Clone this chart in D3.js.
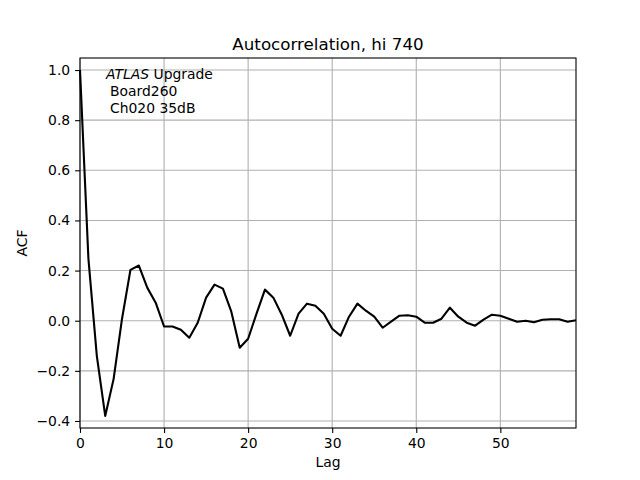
<!DOCTYPE html>
<html>
<head>
<meta charset="utf-8">
<title>Autocorrelation</title>
<script src="https://d3js.org/d3.v7.min.js"></script>
<style>
  body { margin: 0; background: #fff; }
  text { font-family: "DejaVu Sans", sans-serif; fill: #000; }
</style>
</head>
<body>
<svg width="640" height="480"></svg>
<script>
// autocorrelation values, lag 0..59
var lags = d3.range(0, 60);
var acf = [1.0, 0.248, -0.14, -0.38, -0.232, 0.008, 0.203, 0.22, 0.132, 0.072,
           -0.023, -0.023, -0.036, -0.068, -0.008, 0.092, 0.144, 0.128, 0.036, -0.108,
           -0.072, 0.028, 0.124, 0.092, 0.024, -0.06, 0.028, 0.068, 0.06, 0.028,
           -0.032, -0.06, 0.016, 0.068, 0.04, 0.016, -0.028, -0.004, 0.02, 0.022,
           0.016, -0.008, -0.008, 0.008, 0.052, 0.016, -0.008, -0.02, 0.004, 0.024,
           0.02, 0.008, -0.004, 0.0, -0.006, 0.004, 0.006, 0.006, -0.004, 0.002];
var xTicks = [0, 10, 20, 30, 40, 50];
var yTicks = [-0.4, -0.2, 0.0, 0.2, 0.4, 0.6, 0.8, 1.0];
var title = "Autocorrelation, hi 740";
var labelLines = ["Board260", "Ch020 35dB"];

var svg = d3.select("svg"),
    margin = { top: 58, right: 64, bottom: 52, left: 80 },
    width = +svg.attr("width") - margin.left - margin.right,
    height = +svg.attr("height") - margin.top - margin.bottom,
    g = svg.append("g").attr("transform", "translate(" + margin.left + "," + margin.top + ")");

var x = d3.scaleLinear().domain([0, 59]).range([0, width]);
var y = d3.scaleLinear().domain([-0.428, 1.048]).range([height, 0]);

// grid
g.append("g").selectAll("line").data(xTicks).enter().append("line")
    .attr("x1", d => x(d)).attr("x2", d => x(d))
    .attr("y1", 0).attr("y2", height)
    .attr("stroke", "#b0b0b0").attr("stroke-width", 1.1);
g.append("g").selectAll("line").data(yTicks).enter().append("line")
    .attr("x1", 0).attr("x2", width)
    .attr("y1", d => y(d)).attr("y2", d => y(d))
    .attr("stroke", "#b0b0b0").attr("stroke-width", 1.1);

// the acf line
var line = d3.line()
    .x(function (d, i) { return x(lags[i]); })
    .y(function (d) { return y(d); });

g.append("path")
    .datum(acf)
    .attr("fill", "none")
    .attr("stroke", "#000")
    .attr("stroke-width", 2.1)
    .attr("stroke-linejoin", "round")
    .attr("d", line);

// axes
var xAxis = g.append("g")
    .attr("transform", "translate(0," + height + ")")
    .call(d3.axisBottom(x).tickValues(xTicks).tickSize(4.9).tickPadding(4.9).tickFormat(d3.format("d")));
var yAxis = g.append("g")
    .call(d3.axisLeft(y).tickValues(yTicks).tickSize(4.9).tickPadding(4.9)
        .tickFormat(function (d) { return d3.format(".1f")(d).replace("-", "\u2212"); }));

[xAxis, yAxis].forEach(function (a) {
    a.select(".domain").remove();
    a.selectAll("line").attr("stroke", "#000").attr("stroke-width", 1.1);
    a.selectAll("text").attr("font-size", "13.9px").attr("font-family", "DejaVu Sans");
});

// frame
g.append("rect")
    .attr("width", width).attr("height", height)
    .attr("fill", "none").attr("stroke", "#000").attr("stroke-width", 1.1);

// title and axis labels
svg.append("text")
    .attr("x", margin.left + width / 2).attr("y", 50)
    .attr("text-anchor", "middle").attr("font-size", "16.7px")
    .text(title);

svg.append("text")
    .attr("x", margin.left + width / 2).attr("y", 467)
    .attr("text-anchor", "middle").attr("font-size", "13.9px")
    .text("Lag");

svg.append("text")
    .attr("transform", "translate(27," + (margin.top + height / 2) + ") rotate(-90)")
    .attr("text-anchor", "middle").attr("font-size", "13.9px")
    .text("ACF");

// annotation
var note = svg.append("text").attr("font-size", "13.9px");
var first = note.append("tspan").attr("x", 106).attr("y", 79);
first.append("tspan").attr("font-style", "italic").text("ATLAS");
first.append("tspan").text(" Upgrade");
labelLines.forEach(function (t, i) {
    svg.append("text")
        .attr("x", 110).attr("y", 96 + i * 17)
        .attr("font-size", "13.9px")
        .text(t);
});
</script>
</body>
</html>
